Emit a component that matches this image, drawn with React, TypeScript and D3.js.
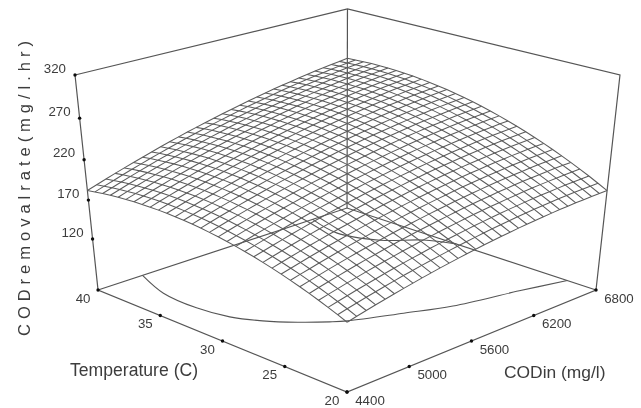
import * as d3 from 'd3';

const width = 641;
const height = 408;

const codTicks = [4400, 5000, 5600, 6200, 6800];
const tempTicks = [40, 35, 30, 25, 20];
const rateTicks = [320, 270, 220, 170, 120];
const rateFloor = 52;

// surface: one row per temperature step (20 -> 40 C),
// one column per CODin step (4400 -> 6800 mg/l)
const rateRows = [
  [138,140.8,143.4,146,148.5,150.9,153.2,155.4,157.6,159.6,161.6,163.4,165.2,166.9,168.5,170,171.4,172.8,174,175.2,176.2,177.2,178.1,178.9,179.6,180.2,180.8,181.2,181.6,181.8,182],
  [142.7,145.5,148.2,150.8,153.3,155.8,158.1,160.4,162.5,164.6,166.6,168.5,170.3,172,173.7,175.2,176.7,178.1,179.3,180.5,181.6,182.6,183.6,184.4,185.1,185.8,186.4,186.8,187.2,187.5,187.7],
  [147.2,150,152.7,155.4,157.9,160.4,162.8,165.1,167.3,169.4,171.4,173.4,175.2,177,178.6,180.2,181.7,183.1,184.4,185.7,186.8,187.8,188.8,189.7,190.4,191.1,191.7,192.3,192.7,193,193.3],
  [151.4,154.3,157,159.7,162.3,164.8,167.2,169.6,171.8,174,176,178,179.9,181.7,183.4,185,186.5,188,189.3,190.6,191.7,192.8,193.8,194.7,195.5,196.3,196.9,197.4,197.9,198.3,198.6],
  [155.4,158.3,161.1,163.8,166.5,169,171.5,173.8,176.1,178.3,180.4,182.4,184.3,186.1,187.9,189.5,191.1,192.6,193.9,195.2,196.4,197.6,198.6,199.5,200.4,201.1,201.8,202.4,202.9,203.3,203.6],
  [159.2,162.2,165,167.8,170.4,173,175.5,177.9,180.2,182.4,184.5,186.6,188.5,190.4,192.2,193.9,195.4,197,198.4,199.7,200.9,202.1,203.2,204.1,205,205.8,206.5,207.2,207.7,208.1,208.5],
  [162.8,165.8,168.6,171.4,174.1,176.7,179.3,181.7,184,186.3,188.5,190.5,192.5,194.4,196.2,198,199.6,201.1,202.6,204,205.2,206.4,207.5,208.5,209.4,210.3,211,211.7,212.2,212.7,213.1],
  [166.2,169.2,172.1,174.9,177.6,180.3,182.8,185.3,187.7,190,192.2,194.3,196.3,198.2,200.1,201.8,203.5,205.1,206.6,208,209.3,210.5,211.6,212.7,213.6,214.5,215.3,216,216.6,217.1,217.5],
  [169.3,172.3,175.3,178.1,180.9,183.6,186.2,188.7,191.1,193.4,195.7,197.8,199.9,201.8,203.7,205.5,207.2,208.8,210.3,211.8,213.1,214.4,215.5,216.6,217.6,218.5,219.3,220.1,220.7,221.2,221.7],
  [172.2,175.3,178.3,181.2,184,186.7,189.3,191.8,194.3,196.6,198.9,201.1,203.2,205.2,207.1,208.9,210.7,212.3,213.9,215.4,216.7,218,219.2,220.3,221.4,222.3,223.2,223.9,224.6,225.2,225.7],
  [174.9,178,181,183.9,186.8,189.5,192.2,194.8,197.3,199.6,202,204.2,206.3,208.3,210.3,212.1,213.9,215.6,217.2,218.7,220.1,221.4,222.7,223.8,224.9,225.9,226.8,227.5,228.3,228.9,229.4],
  [177.4,180.5,183.6,186.5,189.4,192.2,194.9,197.5,200,202.4,204.8,207,209.2,211.3,213.2,215.1,216.9,218.7,220.3,221.8,223.3,224.7,225.9,227.1,228.2,229.2,230.1,231,231.7,232.4,232.9],
  [179.6,182.8,185.9,188.9,191.8,194.6,197.3,200,202.5,205,207.4,209.6,211.8,214,216,217.9,219.7,221.5,223.2,224.7,226.2,227.6,228.9,230.2,231.3,232.3,233.3,234.1,234.9,235.6,236.2],
  [181.6,184.8,188,191,193.9,196.8,199.6,202.2,204.8,207.3,209.7,212.1,214.3,216.4,218.5,220.5,222.3,224.1,225.8,227.4,228.9,230.4,231.7,233,234.1,235.2,236.2,237.1,237.9,238.6,239.3],
  [183.4,186.7,189.8,192.9,195.9,198.8,201.6,204.3,206.9,209.4,211.9,214.2,216.5,218.7,220.8,222.8,224.7,226.5,228.2,229.9,231.4,232.9,234.3,235.6,236.8,237.9,238.9,239.9,240.7,241.5,242.1],
  [185,188.3,191.5,194.6,197.6,200.5,203.4,206.1,208.8,211.3,213.8,216.2,218.5,220.7,222.8,224.9,226.8,228.7,230.5,232.1,233.7,235.2,236.6,238,239.2,240.4,241.4,242.4,243.3,244.1,244.8],
  [186.4,189.7,192.9,196,199.1,202.1,204.9,207.7,210.4,213,215.5,217.9,220.3,222.5,224.7,226.8,228.7,230.6,232.4,234.2,235.8,237.3,238.8,240.1,241.4,242.6,243.7,244.7,245.6,246.4,247.2],
  [187.5,190.9,194.1,197.3,200.4,203.4,206.3,209.1,211.8,214.5,217,219.5,221.8,224.1,226.3,228.4,230.4,232.4,234.2,236,237.6,239.2,240.7,242.1,243.4,244.6,245.7,246.8,247.7,248.6,249.3],
  [188.4,191.8,195.1,198.3,201.4,204.4,207.4,210.2,213,215.7,218.3,220.8,223.2,225.5,227.7,229.9,231.9,233.9,235.7,237.5,239.2,240.8,242.4,243.8,245.1,246.4,247.5,248.6,249.6,250.5,251.3],
  [189.1,192.5,195.8,199.1,202.2,205.3,208.3,211.2,214,216.7,219.3,221.8,224.3,226.6,228.9,231.1,233.2,235.2,237.1,238.9,240.6,242.3,243.8,245.3,246.7,247.9,249.1,250.3,251.3,252.2,253],
  [189.6,193,196.4,199.7,202.9,206,209,211.9,214.7,217.5,220.1,222.7,225.2,227.6,229.9,232.1,234.2,236.2,238.2,240,241.8,243.5,245.1,246.6,248,249.3,250.5,251.7,252.7,253.7,254.6],
  [189.8,193.3,196.7,200,203.2,206.4,209.4,212.4,215.2,218,220.7,223.3,225.8,228.3,230.6,232.8,235,237.1,239,240.9,242.7,244.4,246.1,247.6,249,250.4,251.7,252.9,253.9,254.9,255.9],
  [189.8,193.4,196.8,200.1,203.4,206.6,209.6,212.6,215.5,218.4,221.1,223.7,226.3,228.7,231.1,233.4,235.6,237.7,239.7,241.6,243.4,245.2,246.9,248.4,249.9,251.3,252.6,253.8,254.9,256,256.9],
  [189.6,193.2,196.7,200,203.3,206.5,209.7,212.7,215.6,218.5,221.2,223.9,226.5,229,231.4,233.7,235.9,238.1,240.1,242.1,243.9,245.7,247.4,249,250.5,252,253.3,254.6,255.7,256.8,257.8],
  [189.2,192.8,196.3,199.7,203.1,206.3,209.4,212.5,215.5,218.4,221.2,223.9,226.5,229,231.5,233.8,236.1,238.2,240.3,242.3,244.2,246,247.8,249.4,251,252.4,253.8,255.1,256.3,257.4,258.4],
  [188.6,192.2,195.7,199.2,202.6,205.8,209,212.1,215.1,218,220.9,223.6,226.3,228.8,231.3,233.7,236,238.2,240.3,242.4,244.3,246.1,247.9,249.6,251.2,252.7,254.1,255.4,256.6,257.8,258.8],
  [187.7,191.4,194.9,198.4,201.8,205.1,208.4,211.5,214.5,217.5,220.4,223.1,225.8,228.4,230.9,233.3,235.7,237.9,240.1,242.1,244.1,246,247.8,249.5,251.1,252.7,254.1,255.5,256.7,257.9,259],
  [186.6,190.3,193.9,197.4,200.9,204.2,207.5,210.6,213.7,216.7,219.6,222.4,225.1,227.8,230.3,232.8,235.1,237.4,239.6,241.7,243.7,245.6,247.5,249.2,250.9,252.5,253.9,255.3,256.6,257.8,259],
  [185.3,189,192.7,196.2,199.7,203.1,206.4,209.6,212.7,215.7,218.7,221.5,224.3,226.9,229.5,232,234.4,236.7,238.9,241.1,243.1,245.1,246.9,248.7,250.4,252,253.5,255,256.3,257.5,258.7],
  [183.8,187.5,191.2,194.8,198.3,201.7,205.1,208.3,211.4,214.5,217.5,220.4,223.1,225.9,228.5,231,233.4,235.8,238,240.2,242.3,244.3,246.2,248,249.7,251.4,252.9,254.4,255.7,257,258.2],
  [182,185.8,189.5,193.2,196.7,200.1,203.5,206.8,210,213.1,216.1,219,221.8,224.5,227.2,229.8,232.2,234.6,236.9,239.1,241.2,243.3,245.2,247,248.8,250.5,252.1,253.6,255,256.3,257.5],
];

// contours on the floor, [CODin, temperature]
const outerContour = [[4794,40],[4677,37],[4659,34],[4709,31.7],[4815,30],[4961,28.5],[5114,27.3],[5210,26.7],[5567,25.3],[5894,24.1],[6419,23],[6800,22.1]];
const innerContour = [[6438,40],[6356,37.2],[6471,34.4],[6691,32.6],[6800,30.7]];

const codNorm = d3.scaleLinear().domain([4400, 6800]).range([0, 1]);
const tempNorm = d3.scaleLinear().domain([20, 40]).range([0, 1]);
const rateNorm = d3.scaleLinear().domain([rateFloor, 320]).range([0, 1]);

// perspective camera fitted to the box corners
function project(cod: number, temp: number, rate: number): [number, number] {
  const u = codNorm(cod);
  const v = tempNorm(temp);
  const z = rateNorm(rate);
  const w = 1 + 0.122 * u + 0.122 * v - 0.0968 * z;
  return [
    (347 + 321.7 * u - 237 * v - 33.1 * z) / w,
    (392 - 66.6 * u - 66.6 * v - 248.5 * z) / w,
  ];
}

const codAt = (i: number) => 4400 + (2400 * i) / (rateRows[0].length - 1);
const tempAt = (j: number) => 20 + (20 * j) / (rateRows.length - 1);

const line = d3.line();
const curve = d3.line().curve(d3.curveCatmullRom.alpha(0.5));

const byTemp = rateRows.map((row, j) =>
  row.map((r, i) => project(codAt(i), tempAt(j), r))
);
const byCod = rateRows[0].map((_, i) =>
  rateRows.map((row, j) => project(codAt(i), tempAt(j), row[i]))
);

const corner = (cod: number, temp: number, rate: number) => project(cod, temp, rate);

const boxPaths = [
  [corner(4400, 40, 320), corner(6800, 40, 320), corner(6800, 20, 320), corner(6800, 20, rateFloor)],
  [corner(4400, 40, 320), corner(4400, 40, rateFloor), corner(4400, 20, rateFloor), corner(6800, 20, rateFloor), corner(6800, 40, rateFloor), corner(4400, 40, rateFloor)],
  [corner(6800, 40, 320), corner(6800, 40, rateFloor)],
];

// the floor axes are evenly ticked on screen
const left = corner(4400, 40, rateFloor);
const front = corner(4400, 20, rateFloor);
const right = corner(6800, 20, rateFloor);
const tempX = d3.scaleLinear().domain([40, 20]).range([left[0], front[0]]);
const tempY = d3.scaleLinear().domain([40, 20]).range([left[1], front[1]]);
const codX = d3.scaleLinear().domain([4400, 6800]).range([front[0], right[0]]);
const codY = d3.scaleLinear().domain([4400, 6800]).range([front[1], right[1]]);

const inkColor = '#555';
const textColor = '#3c3c3c';
const font = '"Liberation Sans", Arial, sans-serif';

export default function App() {
  return (
    <svg
      width={width}
      height={height}
      style={{ position: 'absolute', left: 0, top: 0, background: '#fff' }}
      fontFamily={font}
    >
      <defs>
        <filter id="soft" x="0" y="0" width="100%" height="100%">
          <feGaussianBlur stdDeviation="0.35" />
        </filter>
      </defs>
      <g filter="url(#soft)">
        {boxPaths.map((p, i) => (
          <path key={i} d={line(p as any)!} fill="none" stroke={inkColor} strokeWidth={1.2} />
        ))}
        <path d={curve(outerContour.map(d => project(d[0], d[1], rateFloor)) as any)!} fill="none" stroke={inkColor} strokeWidth={1.1} />
        <path d={curve(innerContour.map(d => project(d[0], d[1], rateFloor)) as any)!} fill="none" stroke={inkColor} strokeWidth={1.1} />

        <g fill="none" stroke="#5c5c5c" strokeWidth={1.05}>
          {byTemp.map((p, j) => <path key={j} d={line(p as any)!} />)}
          {byCod.map((p, i) => <path key={i} d={line(p as any)!} />)}
        </g>

        <g fill="#111">
          {rateTicks.map(t => {
            const [x, y] = project(4400, 40, t);
            return <circle key={t} cx={x} cy={y} r={1.7} />;
          })}
          {tempTicks.map(t => <circle key={t} cx={tempX(t)} cy={tempY(t)} r={1.7} />)}
          {codTicks.map(t => <circle key={t} cx={codX(t)} cy={codY(t)} r={1.7} />)}
        </g>

        <g fontSize={13.3} fill={textColor} dominantBaseline="central">
          {rateTicks.map(t => {
            const [x, y] = project(4400, 40, t);
            return <text key={t} x={x - 9} y={y - 7} textAnchor="end">{t}</text>;
          })}
          {tempTicks.map(t => (
            <text key={t} x={tempX(t) - 15} y={tempY(t) + 8} textAnchor="middle">{t}</text>
          ))}
          {codTicks.map(t => (
            <text key={t} x={codX(t) + 23} y={codY(t) + 8} textAnchor="middle">{t}</text>
          ))}
        </g>

        <g fill={textColor}>
          <text x={70} y={376} fontSize={17.6}>Temperature (C)</text>
          <text x={504} y={378} fontSize={17.4}>CODin (mg/l)</text>
          <text
            transform="translate(30,336) rotate(-90)"
            fontSize={16.5}
            textLength={295}
            lengthAdjust="spacing"
          >
            C O D r e m o v a l r a t e ( m g / l . h r )
          </text>
        </g>
      </g>
    </svg>
  );
}
